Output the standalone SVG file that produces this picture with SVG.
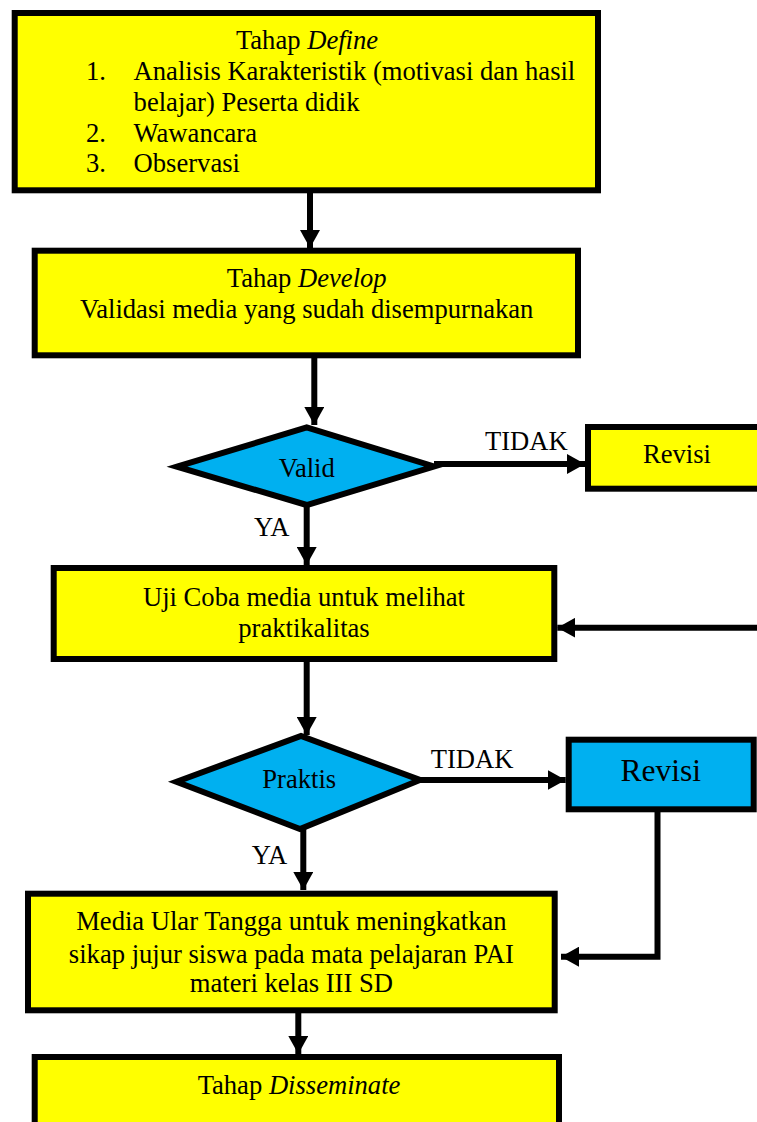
<svg xmlns="http://www.w3.org/2000/svg" width="757" height="1122" viewBox="0 0 757 1122">
<style>
  .box { fill: #FFFF00; stroke: #000; stroke-width: 6; }
  .blue { fill: #00B0F0; stroke: #000; stroke-width: 6; }
  .t { font-family: "Liberation Serif", "Times New Roman", serif; font-size: 26.6px; fill: #000; }
  .big { font-size: 31.5px; }
  .c { text-anchor: middle; }
  .conn { stroke: #000; stroke-width: 6; fill: none; }
</style>
<defs>
  <marker id="arr" markerUnits="userSpaceOnUse" markerWidth="18" markerHeight="20" viewBox="0 0 18 20" refX="18" refY="10" orient="auto">
    <path d="M0,0 L18,10 L0,20 z" fill="#000"/>
  </marker>
</defs>
<rect width="757" height="1122" fill="#fff"/>

<g id="connectors">
  <line class="conn" x1="310" y1="193" x2="310" y2="248" marker-end="url(#arr)"/>
  <line class="conn" x1="314.3" y1="358" x2="314.3" y2="425" marker-end="url(#arr)"/>
  <line class="conn" x1="434" y1="464" x2="585" y2="464" marker-end="url(#arr)"/>
  <line class="conn" x1="306.7" y1="505" x2="306.7" y2="565" marker-end="url(#arr)"/>
  <line class="conn" x1="757" y1="627.7" x2="557.3" y2="627.7" marker-end="url(#arr)"/>
  <line class="conn" x1="306.7" y1="662" x2="306.7" y2="735" marker-end="url(#arr)"/>
  <line class="conn" x1="420" y1="780" x2="565.7" y2="780" marker-end="url(#arr)"/>
  <line class="conn" x1="303.3" y1="829" x2="303.3" y2="890" marker-end="url(#arr)"/>
  <path class="conn" d="M657.5,812 V956.7 H561" marker-end="url(#arr)"/>
  <line class="conn" x1="298.3" y1="1013" x2="298.3" y2="1054" marker-end="url(#arr)"/>
  <text class="t" x="485" y="450">TIDAK</text>
  <text class="t" x="254" y="535.7">YA</text>
  <text class="t" x="430.7" y="768.3">TIDAK</text>
  <text class="t" x="251.7" y="864">YA</text>
</g>

<g id="define">
  <rect class="box" x="14.7" y="13" width="583.3" height="177.3"/>
  <text class="t c" x="307" y="49.3">Tahap <tspan font-style="italic">Define</tspan></text>
  <text class="t" x="86" y="80">1.</text>
  <text class="t" x="133.6" y="80">Analisis Karakteristik (motivasi dan hasil</text>
  <text class="t" x="133.6" y="110.5">belajar) Peserta didik</text>
  <text class="t" x="86" y="141.5">2.</text>
  <text class="t" x="133.6" y="141.5">Wawancara</text>
  <text class="t" x="86" y="171.7">3.</text>
  <text class="t" x="133.6" y="171.7">Observasi</text>
</g>

<g id="develop">
  <rect class="box" x="34.7" y="250.7" width="543.3" height="104.6"/>
  <text class="t c" x="306.7" y="287.3">Tahap <tspan font-style="italic">Develop</tspan></text>
  <text class="t c" x="306.7" y="318.3">Validasi media yang sudah disempurnakan</text>
</g>

<g id="valid">
  <polygon class="blue" points="177,466.7 306.7,427.5 434,466.5 306.7,505"/>
  <text class="t c" x="306.7" y="476.7">Valid</text>
</g>

<g id="revisi1">
  <rect class="box" x="588" y="427" width="200" height="61.7"/>
  <text class="t c" x="677" y="463.3">Revisi</text>
</g>

<g id="ujicoba">
  <rect class="box" x="53.7" y="568" width="500.6" height="91"/>
  <text class="t c" x="304" y="606">Uji Coba media untuk melihat</text>
  <text class="t c" x="304" y="637">praktikalitas</text>
</g>

<g id="praktis">
  <polygon class="blue" points="176.5,781.7 301,736 420,780 300,829"/>
  <text class="t c" x="299.2" y="788.3">Praktis</text>
</g>

<g id="revisi2">
  <rect class="blue" x="568.7" y="739.7" width="185" height="69.6"/>
  <text class="t big c" x="660.7" y="781">Revisi</text>
</g>

<g id="media">
  <rect class="box" x="28" y="893.7" width="526.7" height="116.6"/>
  <text class="t c" x="291.4" y="930">Media Ular Tangga untuk meningkatkan</text>
  <text class="t c" x="291.4" y="963.3">sikap jujur siswa pada mata pelajaran PAI</text>
  <text class="t c" x="291.4" y="991.7">materi kelas III SD</text>
</g>

<g id="disseminate">
  <rect class="box" x="34.7" y="1057" width="524.3" height="100"/>
  <text class="t c" x="299" y="1094.3">Tahap <tspan font-style="italic">Disseminate</tspan></text>
</g>
</svg>
